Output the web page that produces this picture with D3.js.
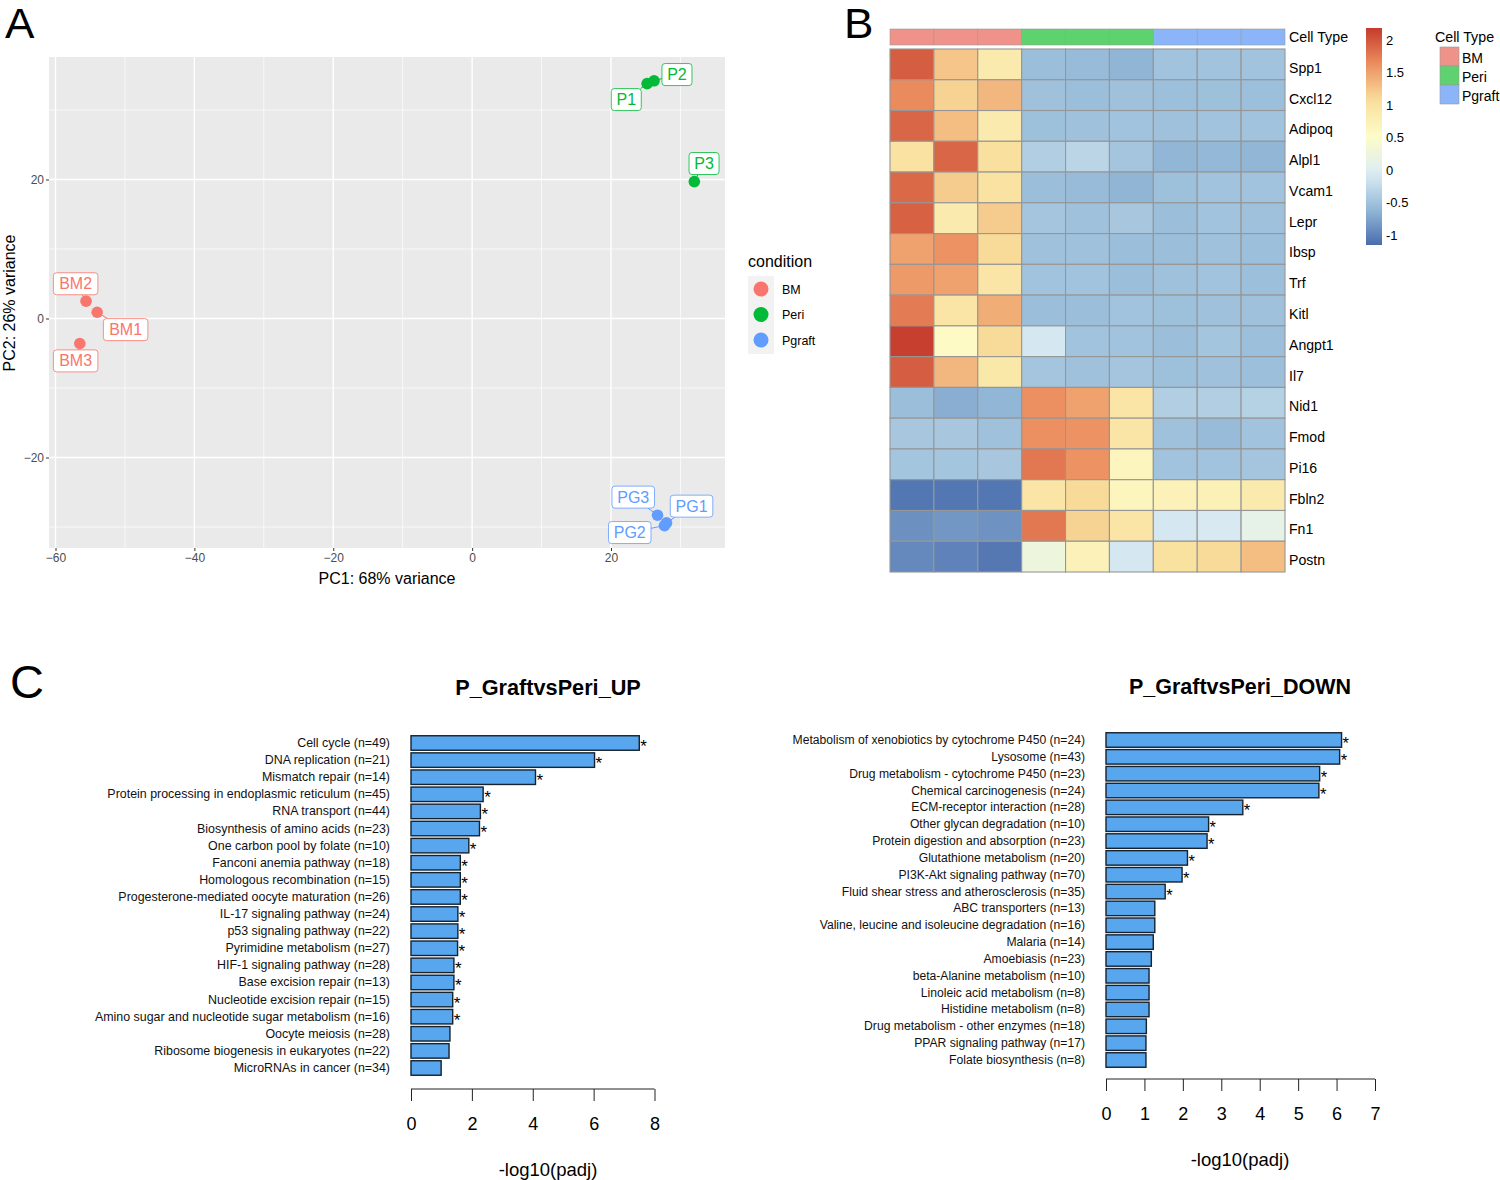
<!DOCTYPE html>
<html><head><meta charset="utf-8">
<script src="https://cdn.jsdelivr.net/npm/d3@7/dist/d3.min.js"></script>
<style>html,body{margin:0;background:#fff}svg{display:block}text{font-family:"Liberation Sans",Arial,sans-serif}</style>
</head><body><svg id="c" width="1500" height="1180"></svg>
<script>
// Panel A
const sampleNames=["BM1","BM2","BM3","P1","P2","P3","PG1","PG2","PG3"];
const sampleCond=["BM","BM","BM","Peri","Peri","Peri","Pgraft","Pgraft","Pgraft"];
const pc1=[-54,-55.6,-56.5,25.2,26.2,32,28,27.7,26.7];
const pc2=[0.9,2.5,-3.6,33.8,34.2,19.7,-29.4,-29.8,-28.3];
const labelPc1=[-49.9,-57.1,-57.1,22.2,29.5,33.4,31.6,22.7,23.2];
const labelPc2=[-1.6,5,-6.1,31.5,35.1,22.3,-27,-30.8,-25.7];
const conditions=["BM","Peri","Pgraft"];
const conditionColors=["#F8766D","#00BA38","#619CFF"];
const pcTicks=[-60,-40,-20,0,20];
const pc2Ticks=[-20,0,20];
const pcMinor=[-50,-30,-10,10,30];
const pc2Minor=[-30,-10,10,30];
// Panel B
const genes=["Spp1","Cxcl12","Adipoq","Alpl1","Vcam1","Lepr","Ibsp","Trf","Kitl","Angpt1","Il7","Nid1","Fmod","Pi16","Fbln2","Fn1","Postn"];
const heat=[
[1.95,1.25,.85,-.55,-.58,-.63,-.5,-.5,-.5],
[1.65,1.15,1.35,-.52,-.55,-.52,-.54,-.53,-.54],
[1.9,1.3,.85,-.53,-.52,-.5,-.52,-.5,-.5],
[1.0,1.9,1.05,-.38,-.3,-.47,-.62,-.6,-.62],
[1.88,1.2,1.0,-.55,-.58,-.63,-.53,-.5,-.5],
[1.93,.85,1.2,-.47,-.52,-.45,-.55,-.5,-.52],
[1.5,1.6,1.1,-.52,-.52,-.55,-.55,-.52,-.54],
[1.55,1.5,.95,-.5,-.5,-.55,-.52,-.5,-.54],
[1.75,.95,1.42,-.55,-.55,-.5,-.53,-.52,-.52],
[2.15,.55,1.1,-.1,-.5,-.5,-.55,-.48,-.54],
[1.95,1.35,.9,-.47,-.52,-.47,-.53,-.52,-.54],
[-.55,-.68,-.62,1.62,1.5,.95,-.38,-.38,-.35],
[-.45,-.45,-.52,1.62,1.6,.95,-.52,-.58,-.5],
[-.48,-.48,-.45,1.78,1.6,.65,-.5,-.5,-.47],
[-1.08,-1.08,-1.08,.95,1.1,.65,.7,.75,.85],
[-.9,-.85,-.88,1.78,1.15,.95,-.1,-.08,.12],
[-.95,-1,-1.07,.25,.7,-.1,1.02,1.1,1.3]];
const heatDomain=[-1.15,-0.595,-0.04,0.515,1.07,1.625,2.18];
const heatColors=["#4A6DAD","#95BAD8","#DDEDF4","#FDFCC8","#F9DF9C","#EC8F60","#C53C2C"];
const legendTicks=[2,1.5,1,.5,0,-.5,-1];
const annotationTypes=["BM","Peri","Pgraft"];
const annotationColors=["#EF9289","#5ED26E","#8BB5F8"];
// Panel C
const upTerms=["Cell cycle (n=49)","DNA replication (n=21)","Mismatch repair (n=14)","Protein processing in endoplasmic reticulum (n=45)","RNA transport (n=44)","Biosynthesis of amino acids (n=23)","One carbon pool by folate (n=10)","Fanconi anemia pathway (n=18)","Homologous recombination (n=15)","Progesterone-mediated oocyte maturation (n=26)","IL-17 signaling pathway (n=24)","p53 signaling pathway (n=22)","Pyrimidine metabolism (n=27)","HIF-1 signaling pathway (n=28)","Base excision repair (n=13)","Nucleotide excision repair (n=15)","Amino sugar and nucleotide sugar metabolism (n=16)","Oocyte meiosis (n=28)","Ribosome biogenesis in eukaryotes (n=22)","MicroRNAs in cancer (n=34)"];
const upValues=[7.5,6.03,4.09,2.37,2.28,2.25,1.9,1.62,1.62,1.62,1.54,1.54,1.53,1.41,1.41,1.37,1.37,1.28,1.25,.99];
const upSignificant=17;
const downTerms=["Metabolism of xenobiotics by cytochrome P450 (n=24)","Lysosome (n=43)","Drug metabolism - cytochrome P450 (n=23)","Chemical carcinogenesis (n=24)","ECM-receptor interaction (n=28)","Other glycan degradation (n=10)","Protein digestion and absorption (n=23)","Glutathione metabolism (n=20)","PI3K-Akt signaling pathway (n=70)","Fluid shear stress and atherosclerosis (n=35)","ABC transporters (n=13)","Valine, leucine and isoleucine degradation (n=16)","Malaria (n=14)","Amoebiasis (n=23)","beta-Alanine metabolism (n=10)","Linoleic acid metabolism (n=8)","Histidine metabolism (n=8)","Drug metabolism - other enzymes (n=18)","PPAR signaling pathway (n=17)","Folate biosynthesis (n=8)"];
const downValues=[6.13,6.08,5.56,5.54,3.56,2.67,2.63,2.12,1.98,1.54,1.27,1.27,1.23,1.18,1.12,1.12,1.12,1.05,1.04,1.04];
const downSignificant=10;
const upTicks=[0,2,4,6,8];
const downTicks=[0,1,2,3,4,5,6,7];

const svg=d3.select("#c");
const txt=(g,x,y,s,size,opt={})=>{
  const sx=opt.sx||1;
  const t=g.append("text").attr("transform",`translate(${x},${y}) ${opt.rot?`rotate(${opt.rot})`:""} scale(${sx},1)`)
    .attr("font-size",size).attr("fill",opt.fill||"#000").attr("text-anchor",opt.anchor||"start")
    .attr("font-weight",opt.weight||"normal").text(s);
  return t;
};
// panel letters
txt(svg,5,38,"A",42,{sx:1.05});txt(svg,844,38,"B",42,{sx:1.05});txt(svg,10,698,"C",47);

// ---------- A
{
 const x=d3.scaleLinear().domain([-60,20]).range([55.5,611]);
 const y=d3.scaleLinear().domain([-20,20]).range([457.5,179.5]);
 const L=49,R=725,T=57,B=548;
 const g=svg.append("g");
 g.append("rect").attr("x",L).attr("y",T).attr("width",R-L).attr("height",B-T).attr("fill","#EAEAEA");
 g.selectAll(".vm").data(pcMinor).join("line").attr("x1",x).attr("x2",x).attr("y1",T).attr("y2",B).attr("stroke","#fff").attr("stroke-width",.7);
 g.selectAll(".hm").data(pc2Minor).join("line").attr("y1",y).attr("y2",y).attr("x1",L).attr("x2",R).attr("stroke","#fff").attr("stroke-width",.7);
 g.selectAll(".vM").data(pcTicks).join("line").attr("x1",x).attr("x2",x).attr("y1",T).attr("y2",B).attr("stroke","#fff").attr("stroke-width",1.4);
 g.selectAll(".hM").data(pc2Ticks).join("line").attr("y1",y).attr("y2",y).attr("x1",L).attr("x2",R).attr("stroke","#fff").attr("stroke-width",1.4);
 const ax=g.append("g").attr("transform",`translate(0,${B})`).call(d3.axisBottom(x).tickValues(pcTicks).tickSize(3).tickPadding(2).tickFormat(d=>d<0?"\u2212"+(-d):d));
 const ay=g.append("g").attr("transform",`translate(${L},0)`).call(d3.axisLeft(y).tickValues(pc2Ticks).tickSize(3).tickPadding(2).tickFormat(d=>d<0?"\u2212"+(-d):d));
 [ax,ay].forEach(a=>{a.select(".domain").remove();a.selectAll("line").attr("stroke","#333");a.selectAll("text").attr("font-size",12).attr("fill","#4D4D4D").style("font-family",'"Liberation Sans"');});
 const color=d3.scaleOrdinal(conditions,conditionColors);
 const rows=sampleNames.map((n,i)=>({n,c:sampleCond[i],x:x(pc1[i]),y:y(pc2[i]),lx:x(labelPc1[i]),ly:y(labelPc2[i])}));
 const W=d=>d.n.length===2?30:d.n.length===3&&d.n[0]==="B"?44.5:42.5,H=22;
 rows.forEach(d=>{
   const hw=W(d)/2,hh=H/2;const dx=d.x-d.lx,dy=d.y-d.ly;
   const t=Math.min(hw/Math.abs(dx||1e-6),hh/Math.abs(dy||1e-6));
   if(t<1)g.append("line").attr("x1",d.x).attr("y1",d.y).attr("x2",d.lx+dx*t).attr("y2",d.ly+dy*t).attr("stroke",color(d.c)).attr("stroke-width",1);
 });
 g.selectAll(".pt").data(rows).join("circle").attr("cx",d=>d.x).attr("cy",d=>d.y).attr("r",5.8).attr("fill",d=>color(d.c));
 const lb=g.selectAll(".lb").data(rows).join("g");
 lb.append("rect").attr("x",d=>d.lx-W(d)/2).attr("y",d=>d.ly-H/2).attr("width",W).attr("height",H).attr("rx",3).attr("fill","#fff").attr("stroke",d=>color(d.c)).attr("stroke-width",.8);
 lb.append("text").attr("x",d=>d.lx).attr("y",d=>d.ly+5.5).attr("text-anchor","middle").attr("font-size",16).attr("fill",d=>color(d.c)).text(d=>d.n);
 txt(svg,387,584,"PC1: 68% variance",16,{anchor:"middle"});
 txt(svg,14.5,303,"PC2: 26% variance",16,{anchor:"middle",rot:-90});
 txt(svg,748,267,"condition",16);
 g.append("rect").attr("x",748).attr("y",276).attr("width",26).attr("height",78).attr("fill","#F2F2F2");
 const ly=d3.scalePoint().domain(conditions).range([289,340]);
 g.selectAll(".lk").data(conditions).join("circle").attr("cx",761).attr("cy",ly).attr("r",7.5).attr("fill",color);
 conditions.forEach(c=>txt(svg,782,ly(c)+4.5,c,13,{sx:.96}));
}
// ---------- B
{
 const x=d3.scaleBand().domain(d3.range(9)).range([890,1285]);
 const y=d3.scaleBand().domain(genes).range([49,572]);
 const col=d3.scaleLinear().domain(heatDomain).range(heatColors);
 const g=svg.append("g");
 const ann=d3.scaleOrdinal(annotationTypes,annotationColors);
 g.selectAll(".an").data(sampleCond).join("rect").attr("x",(d,i)=>x(i)).attr("y",29).attr("width",x.bandwidth()).attr("height",16)
  .attr("fill",d=>ann(d==="Peri"?"Peri":d==="BM"?"BM":"Pgraft")).attr("stroke","#9a9a9a").attr("stroke-width",.6);
 txt(svg,1289,42,"Cell Type",15,{sx:.95});
 genes.forEach((gn,r)=>{
   g.selectAll(null).data(heat[r]).join("rect").attr("x",(d,i)=>x(i)).attr("y",y(gn)).attr("width",x.bandwidth()).attr("height",y.bandwidth())
    .attr("fill",d=>col(d)).attr("stroke","#969696").attr("stroke-width",1.1);
   txt(svg,1289,y(gn)+y.bandwidth()/2+8.5,gn,15,{sx:.94});
 });
 // colour legend
 const ls=d3.scaleLinear().domain([2,-1]).range([40,235]);
 const top=28,bot=245;
 const grad=svg.append("defs").append("linearGradient").attr("id","lg").attr("x1",0).attr("x2",0).attr("y1",0).attr("y2",1);
 d3.range(0,1.001,.05).forEach(t=>grad.append("stop").attr("offset",t).attr("stop-color",col(ls.invert(top+t*(bot-top)))));
 g.append("rect").attr("x",1366).attr("y",top).attr("width",16).attr("height",bot-top).attr("fill","url(#lg)");
 legendTicks.forEach(t=>txt(svg,1386,ls(t)+4.5,String(t),13));
 txt(svg,1435,42,"Cell Type",15,{sx:.95});
 const sy=d3.scaleBand().domain(annotationTypes).range([47,104]);
 g.selectAll(".sw").data(annotationTypes).join("rect").attr("x",1440).attr("y",sy).attr("width",19).attr("height",sy.bandwidth()).attr("fill",ann).attr("stroke","#9a9a9a").attr("stroke-width",.6);
 annotationTypes.forEach(t=>txt(svg,1462,sy(t)+sy.bandwidth()/2+6,t,14));
}
// ---------- C
function bars(terms,vals,sig,ticks,o){
 const x=d3.scaleLinear().domain([ticks[0],ticks[ticks.length-1]]).range([o.x0,o.x1]);
 const y=d3.scalePoint().domain(terms).range([o.y0,o.y1]);
 const g=svg.append("g");
 const h=14.5;
 g.selectAll(".b").data(terms).join("rect").attr("x",o.x0).attr("y",d=>y(d)-h/2).attr("width",(d,i)=>x(vals[i])-o.x0).attr("height",h)
   .attr("fill","#57A6EE").attr("stroke","#16222E").attr("stroke-width",1.4);
 terms.forEach((t,i)=>{
   txt(svg,o.lab,y(t)+4,t,13.5,{anchor:"end",sx:o.sx,fill:"#111"});
   if(i<sig)txt(svg,x(vals[i])+1,y(t)+9,"*",o.star);
 });
 const a=g.append("g").attr("transform",`translate(0,${o.ax})`).call(d3.axisBottom(x).tickValues(ticks).tickSize(12).tickSizeOuter(0).tickPadding(16).tickFormat(d3.format("d")));
 a.select(".domain").attr("stroke","#222").attr("stroke-width",1).attr("d",`M${o.x0},0H${o.x1}`);
 a.selectAll("line").attr("stroke","#222");
 a.selectAll("text").attr("font-size",18).attr("fill","#000").style("font-family",'"Liberation Sans"');
 txt(svg,o.cx,o.ax+87,"-log10(padj)",18.5,{anchor:"middle"});
 txt(svg,o.cx,o.ty,o.title,o.ts,{anchor:"middle",weight:"bold"});
}
bars(upTerms,upValues,upSignificant,upTicks,{x0:411,x1:654.5,y0:743,y1:1068,lab:390,ax:1089,cx:548,ty:695,title:"P_GraftvsPeri_UP",sx:.92,ts:21.7,star:17});
bars(downTerms,downValues,downSignificant,downTicks,{x0:1106,x1:1375,y0:740,y1:1060,lab:1085,ax:1079,cx:1240,ty:694,title:"P_GraftvsPeri_DOWN",sx:.9,ts:21.5,star:16.5});
</script></body></html>
